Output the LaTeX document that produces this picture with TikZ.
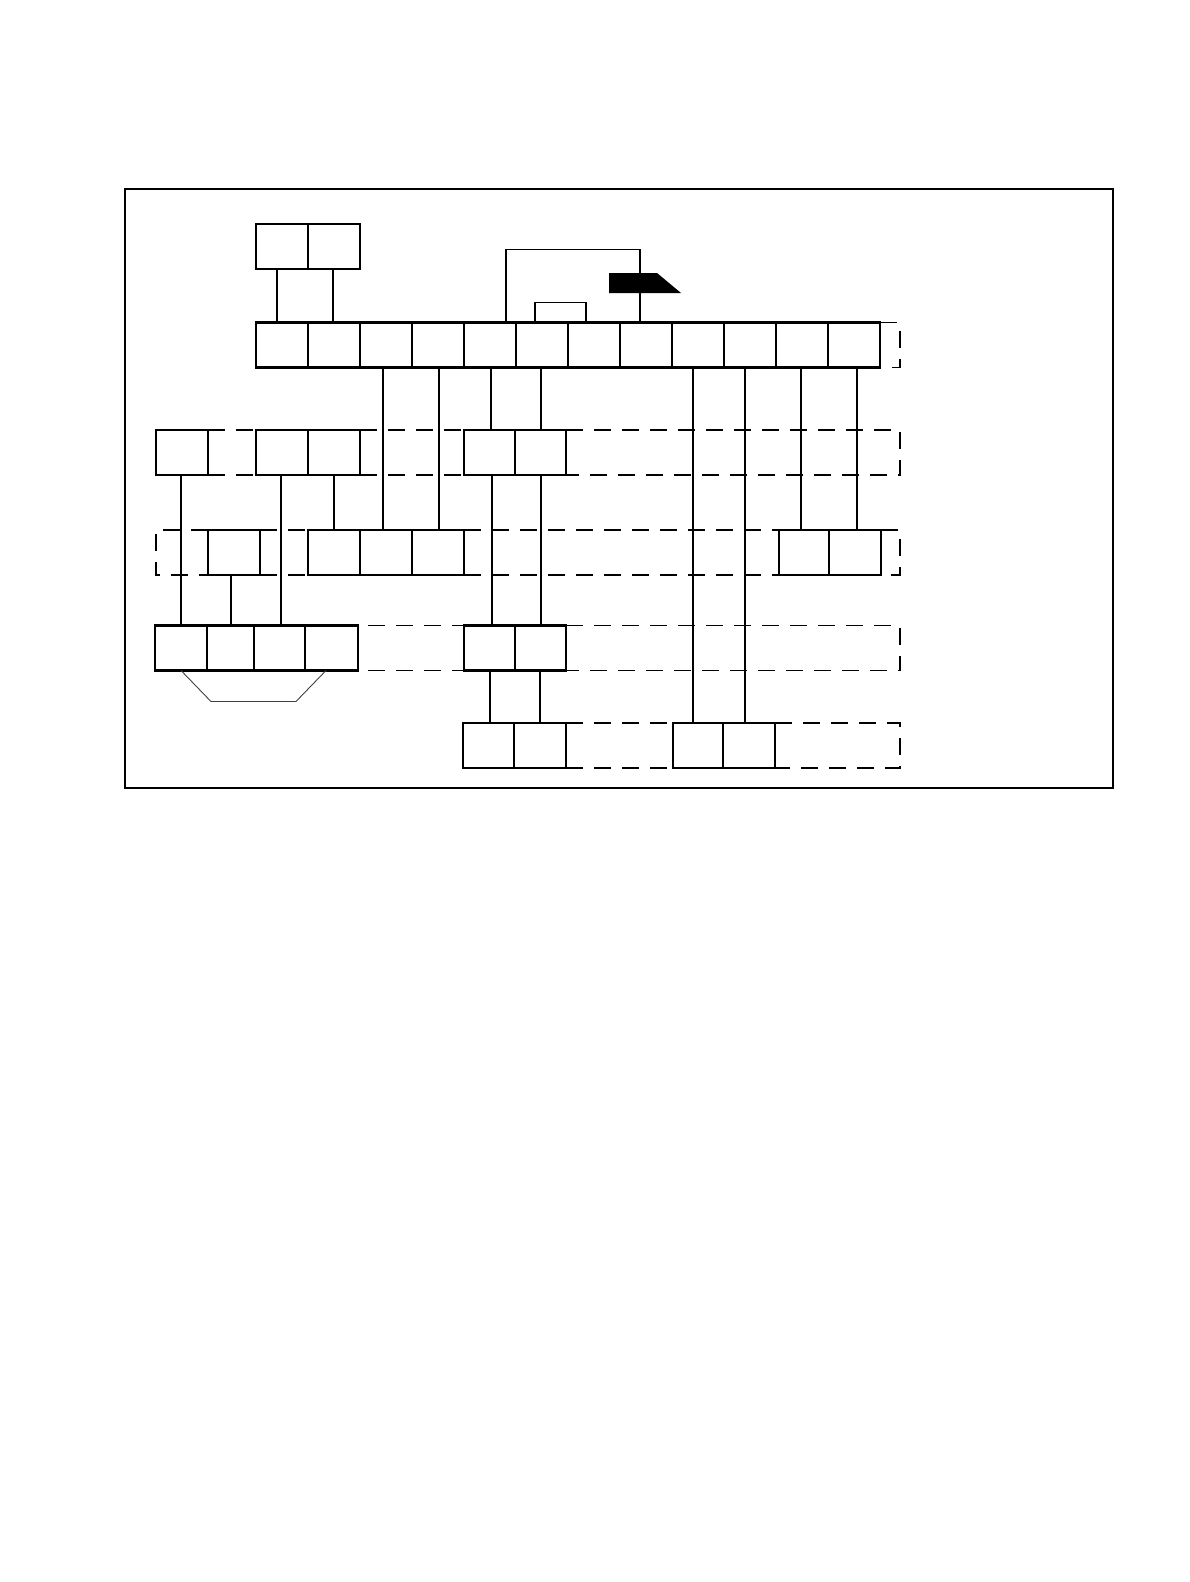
\documentclass[tikz,border=0pt]{standalone}
\begin{document}
\begin{tikzpicture}[x=1pt,y=-1pt,
  cell/.style={minimum width=52pt, minimum height=45pt, inner sep=0pt, outer sep=0pt},
  box/.style={cell, draw, line width=2.6pt},
  outline/.style={line width=2.6pt},
  divthin/.style={line width=1.1pt},
  wire/.style={line width=1.1pt},
  lane/.style={line width=1.2pt, dash pattern=on 17pt off 11pt},
  frame/.style={line width=1.6pt},
  trap/.style={line width=0.9pt, black!75}]
\useasboundingbox (0,0) rectangle (1190,1582);
% outer frame
\draw[frame] (125,189) rectangle (1113,788);
% lane end coordinates
\coordinate (R) at (900,0);
\coordinate (L) at (156,0);
% top pair
\node[box] (T1) at (282,246.5) {};
\node[box] (T2) at (334,246.5) {};
% main row
\foreach \k in {1,...,12} {
  \node[cell] (M\k) at ({230+52*\k},345) {};
}
\draw[outline] (M1.north west) rectangle (M12.south east);
\foreach \k in {1,3,4,6,7,9,10} { \draw[outline] (M\k.north east) -- (M\k.south east); }
\foreach \k in {2,5,8,11} { \draw[divthin] (M\k.north east) -- (M\k.south east); }
\draw[lane] (M12.north east) -- (M12.north east -| R) -- (M12.south east -| R) -- (M12.south east);
% row 2
\node[box] (A) at (182,452.5) {};
\node[box] (B1) at (282,452.5) {};
\node[box] (B2) at (334,452.5) {};
\node[box, minimum width=51pt] (C1) at (489.5,452.5) {};
\node[box, minimum width=51pt] (C2) at (540.5,452.5) {};
\draw[lane] (A.north east) -- (B1.north west);
\draw[lane] (A.south east) -- (B1.south west);
\draw[lane] (B2.north east) -- (C1.north west);
\draw[lane] (B2.south east) -- (C1.south west);
\draw[lane] (C2.north east) -- (C2.north east -| R) -- (C2.south east -| R) -- (C2.south east);
% row 3
\node[box] (D) at (234,552.5) {};
\node[box] (E1) at (334,552.5) {};
\node[box] (E2) at (386,552.5) {};
\node[box] (E3) at (438,552.5) {};
\node[box, minimum width=50pt] (F1) at (804,552.5) {};
\node[box] (F2) at (855,552.5) {};
\draw[lane] (D.north west) -- (D.north west -| L) -- (D.south west -| L) -- (D.south west);
\draw[lane] (D.north east) -- (E1.north west);
\draw[lane] (D.south east) -- (E1.south west);
\draw[lane] (E3.north east) -- (F1.north west);
\draw[lane] (E3.south east) -- (F1.south west);
\draw[lane] (F2.north east) -- (F2.north east -| R) -- (F2.south east -| R) -- (F2.south east);
% row 4
\node[cell] (G1) at (181,648) {};
\node[cell, minimum width=47pt] (G2) at (230.5,648) {};
\node[cell, minimum width=51pt] (G3) at (279.5,648) {};
\node[cell, minimum width=53pt] (G4) at (331.5,648) {};
\draw[outline] (G1.north west) rectangle (G4.south east);
\foreach \k in {1,2,3} { \draw[divthin] (G\k.north east) -- (G\k.south east); }
\node[box, minimum width=51pt] (H1) at (489.5,648) {};
\node[box, minimum width=51pt] (H2) at (540.5,648) {};
\draw[lane] ([xshift=10pt]G4.north east) -- (H1.north west);
\draw[lane] ([xshift=10pt]G4.south east) -- (H1.south west);
\draw[lane] (H2.north east) -- (H2.north east -| R) -- (H2.south east -| R) -- (H2.south east);
\draw[trap] (G1.south) -- ++(30,31) -- ++(85,0) -- ([xshift=-5.5pt]G4.south);
% row 5
\node[box, minimum width=51pt] (I1) at (488.5,745.5) {};
\node[box] (I2) at (540,745.5) {};
\node[box, minimum width=50pt] (J1) at (698,745.5) {};
\node[box] (J2) at (749,745.5) {};
\draw[lane] (I2.north east) -- (J1.north west);
\draw[lane] (I2.south east) -- (J1.south west);
\draw[lane] (J2.north east) -- (J2.north east -| R) -- (J2.south east -| R) -- (J2.south east);
% top pair to main row
\draw[wire] ([xshift=-5pt]T1.south) -- ([xshift=-5pt]T1.south |- M1.north);
\draw[wire] ([xshift=-1pt]T2.south) -- ([xshift=-1pt]T2.south |- M2.north);
% loops above main row
\draw[wire] ([xshift=16pt]M5.north) -- ++(0,-73) -| ([xshift=-6pt]M8.north);
\draw[wire] ([xshift=-7pt]M6.north) -- ++(0,-20) -| ([xshift=-8pt]M7.north);
\fill (609,273) -- (657,273) -- (681,293) -- (609,293) -- cycle;
% main row down
\draw[wire] ([xshift=-3pt]M3.south) -- ([xshift=-3pt]M3.south |- E2.north);
\draw[wire] ([xshift=1pt]M4.south) -- ([xshift=1pt]M4.south |- E3.north);
\draw[wire] ([xshift=1pt]M5.south) -- ([xshift=1pt]M5.south |- C1.north);
\draw[wire] ([xshift=-1pt]M6.south) -- ([xshift=-1pt]M6.south |- C2.north);
\draw[wire] ([xshift=-5pt]M9.south) -- ([xshift=-5pt]M9.south |- J1.north);
\draw[wire] ([xshift=-5pt]M10.south) -- ([xshift=-5pt]M10.south |- J2.north);
\draw[wire] ([xshift=-1pt]M11.south) -- ([xshift=-1pt]M11.south |- F1.north);
\draw[wire] ([xshift=3pt]M12.south) -- ([xshift=3pt]M12.south |- F2.north);
% left side connectors
\draw[wire] ([xshift=-1pt]A.south) -- ([xshift=-1pt]A.south |- G1.north);
\draw[wire] ([xshift=-1pt]B1.south) -- ([xshift=-1pt]B1.south |- G3.north);
\draw[wire] (B2.south) -- (B2.south |- E1.north);
\draw[wire] ([xshift=-3pt]D.south) -- ([xshift=-3pt]D.south |- G2.north);
% middle connectors
\draw[wire] ([xshift=2.5pt]C1.south) -- ([xshift=2.5pt]C1.south |- H1.north);
\draw[wire] ([xshift=0.5pt]C2.south) -- ([xshift=0.5pt]C2.south |- H2.north);
\draw[wire] ([xshift=0.5pt]H1.south) -- ([xshift=0.5pt]H1.south |- I1.north);
\draw[wire] ([xshift=-0.5pt]H2.south) -- ([xshift=-0.5pt]H2.south |- I2.north);
\end{tikzpicture}
\end{document}
